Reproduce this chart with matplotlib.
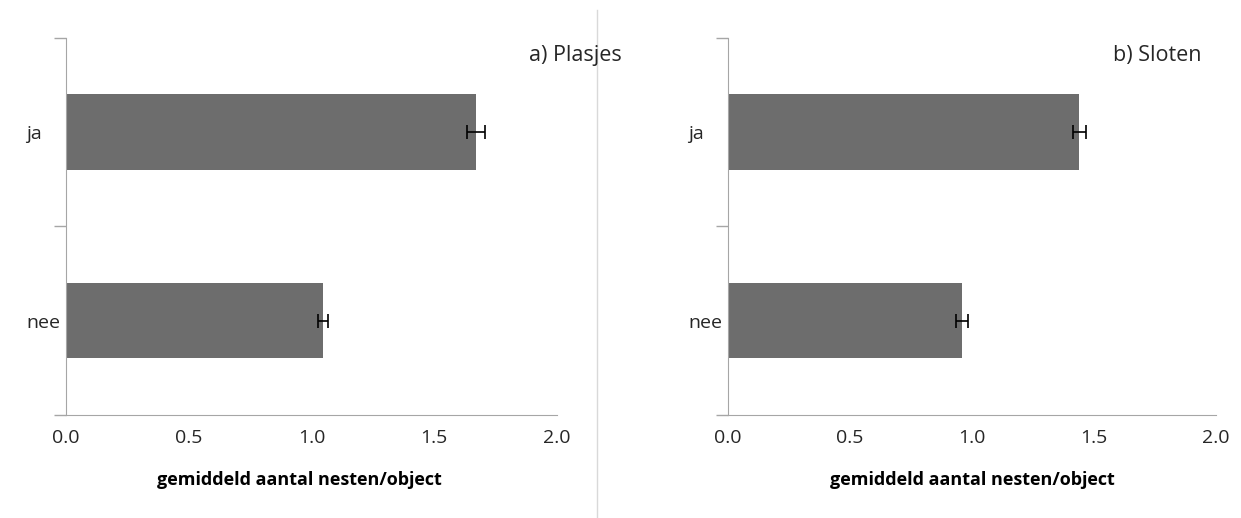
import matplotlib.pyplot as plt
from matplotlib.lines import Line2D

categories = ["nee", "ja"]
plasjes = [1.047, 1.67]
plasjes_err = [0.02, 0.038]
sloten = [0.96, 1.44]
sloten_err = [0.025, 0.027]
xticks = [0.0, 0.5, 1.0, 1.5, 2.0]
xlabel = "gemiddeld aantal nesten/object"

plt.rcParams['font.family'] = ['Open Sans', 'DejaVu Sans']

fig = plt.figure(figsize=(12.41, 5.18), dpi=100)
ax1 = fig.add_axes([0.0532, 0.199, 0.3956, 0.7278])
ax2 = fig.add_axes([0.5866, 0.199, 0.3932, 0.7278])

axis_col = '#a6a6a6'
text_col = '#262626'

for ax, vals, errs, lx in [(ax1, plasjes, plasjes_err, 0.475), (ax2, sloten, sloten_err, 0.5)]:
    ax.barh(range(len(categories)), vals, height=0.4, color='#6d6d6d',
            xerr=errs, error_kw=dict(ecolor='black', elinewidth=1.2, capsize=5, capthick=1.2))
    ax.set_xlim(0, 2.0)
    ax.set_ylim(-0.5, 1.5)
    ax.set_xticks(xticks)
    ax.set_xticklabels([f"{t:.1f}" for t in xticks], fontsize=14, color=text_col)
    ax.set_yticks(range(len(categories)))
    ax.set_yticklabels(categories, fontsize=14, color=text_col, ha='left')
    ax.set_yticks([-0.5, 0.5, 1.5], minor=True)
    ax.tick_params(axis='y', which='major', length=0, pad=28.5)
    ax.tick_params(axis='y', which='minor', length=9, color=axis_col, width=1)
    ax.tick_params(axis='x', length=0, pad=10)
    for s in ['top', 'right']:
        ax.spines[s].set_visible(False)
    ax.spines['left'].set_color(axis_col)
    ax.spines['bottom'].set_color(axis_col)
    ax.set_xlabel(xlabel, fontsize=13, fontweight='bold', color='black')
    ax.xaxis.set_label_coords(lx, -0.148)

fig.text(0.426, 0.882, "a) Plasjes", fontsize=15.5, color=text_col)
fig.text(0.897, 0.882, "b) Sloten", fontsize=15.5, color=text_col)

fig.add_artist(Line2D([0.481, 0.481], [0.0, 0.98], transform=fig.transFigure,
                      color='#d9d9d9', lw=1))

fig.savefig("out.png", dpi=100)
